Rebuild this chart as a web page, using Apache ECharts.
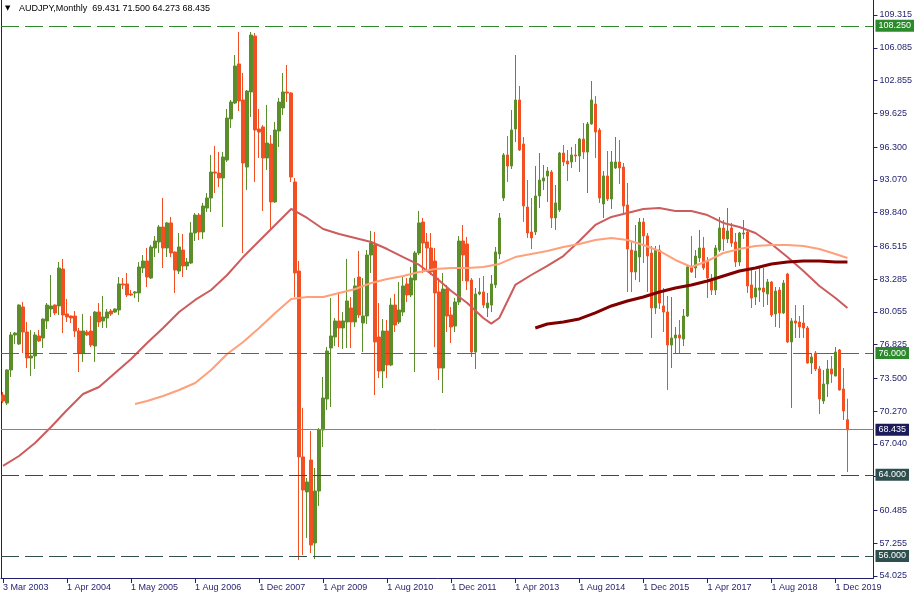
<!DOCTYPE html>
<html><head><meta charset="utf-8">
<script src="https://cdn.jsdelivr.net/npm/echarts@6/dist/echarts.min.js"></script>
<style>html,body{margin:0;padding:0;background:#fff}#c{width:915px;height:600px}</style>
</head><body><div id="c"></div>
<script>
// ---- data ----
const tickLabels = ["3 Mar 2003","1 Apr 2004","1 May 2005","1 Aug 2006","1 Dec 2007","1 Apr 2009","1 Aug 2010","1 Dec 2011","1 Apr 2013","1 Aug 2014","1 Dec 2015","1 Apr 2017","1 Aug 2018","1 Dec 2019"];
const yTicks = [109.315,106.085,102.855,99.625,96.300,93.070,89.840,86.515,83.285,80.055,76.825,73.500,70.270,67.040,63.810,60.485,57.255,54.025];

const open = [
71.86,71.07,74.33,77.78,76.89,80.54,78.07,75.51,75.71,77.68,
77.48,79.16,80.34,80.73,80.64,84.28,79.85,79.65,79.65,78.17,
76.00,78.07,78.17,76.69,80.04,79.16,79.45,80.14,80.04,80.24,
82.81,82.81,81.82,81.92,81.92,84.38,85.07,83.39,86.35,86.94,
88.42,86.35,88.82,85.96,84.08,86.15,84.58,84.87,87.83,89.60,
87.93,90.29,91.28,93.84,93.74,93.25,95.02,99.07,100.64,104.49,
100.94,94.33,101.73,107.24,98.08,98.28,95.22,96.60,90.89,97.88,
100.15,101.73,101.63,92.86,84.08,65.76,62.31,65.46,57.28,62.40,
68.42,71.47,76.50,77.58,79.16,78.47,79.06,80.44,79.06,83.49,
78.96,79.65,85.66,86.65,77.58,74.23,78.17,74.82,80.73,79.06,
80.04,82.81,81.72,83.20,85.86,88.91,86.94,86.35,85.07,82.02,
74.52,82.31,79.75,78.66,81.03,87.04,86.75,83.20,76.10,81.82,
82.02,80.44,80.73,82.71,85.76,91.28,95.52,94.43,98.08,100.94,
96.60,90.39,87.93,87.93,91.48,92.95,93.45,93.84,89.31,90.10,
95.71,94.92,94.83,95.52,95.42,97.09,95.81,98.57,100.54,97.98,
90.69,93.45,91.18,94.24,94.83,94.33,90.59,86.15,83.99,85.46,
88.91,87.54,85.86,80.44,86.15,80.64,80.04,76.79,77.48,77.78,
77.38,79.65,84.48,84.38,85.37,86.35,85.07,83.10,82.21,86.15,
88.32,87.24,88.32,86.94,84.97,87.73,87.93,82.71,81.52,82.21,
82.41,81.82,83.00,79.85,82.21,79.95,83.79,77.09,79.16,79.06,
78.96,78.47,75.02,76.00,74.43,71.27,72.95,74.43,73.74,76.30,
72.46,69.431];
const close = [
71.27,74.33,77.78,77.97,80.73,78.07,75.51,75.71,77.78,77.19,
79.35,80.73,80.64,79.95,84.38,79.75,79.55,79.45,78.17,76.00,
78.17,77.78,76.79,80.04,79.06,79.55,80.04,79.85,80.34,82.81,
82.71,81.72,81.72,82.02,84.48,85.07,83.49,86.45,87.04,88.42,
86.35,88.82,85.86,84.18,86.45,84.58,84.97,87.83,89.60,87.93,
90.49,91.28,93.84,93.74,93.25,95.32,99.16,100.74,104.29,100.84,
94.73,101.82,107.34,97.98,97.78,95.22,96.70,90.89,97.98,100.74,
101.73,101.63,93.35,83.89,65.76,62.50,63.29,57.08,62.40,68.42,
71.57,76.20,77.68,79.16,78.47,79.16,81.13,79.06,82.61,79.75,
79.65,85.66,86.84,77.09,74.23,78.17,74.82,80.73,78.76,80.24,
82.61,81.72,83.39,85.86,88.82,86.84,86.35,83.99,81.92,74.52,
82.31,79.65,78.57,81.03,87.04,85.66,83.10,76.10,81.82,82.02,
80.73,80.93,82.81,85.96,89.31,95.52,94.43,97.98,100.94,96.01,
90.49,87.83,87.34,91.48,93.05,93.25,93.94,89.31,90.79,95.71,
94.83,94.63,95.52,95.42,97.09,95.81,98.57,100.94,97.78,91.28,
93.45,91.18,94.83,94.83,94.24,90.49,86.25,83.99,86.06,88.91,
87.54,85.56,80.44,86.15,80.93,80.04,76.79,77.48,77.78,77.48,
79.65,84.48,83.99,85.56,86.35,84.38,83.39,82.21,86.35,88.32,
87.24,88.03,86.84,84.97,87.83,87.83,82.61,81.42,82.41,82.41,
82.02,83.00,79.75,82.11,79.95,82.90,77.09,79.16,78.96,78.57,
78.47,75.02,75.61,74.43,71.47,72.95,74.43,73.93,76.10,72.36,
70.29,68.435];
const high = [
72.16,74.40,78.07,78.07,80.80,81.03,79.06,78.27,78.07,78.27,
79.40,80.93,83.69,80.80,84.97,85.27,81.33,79.70,80.14,78.47,
79.85,78.27,79.65,80.14,80.93,81.62,80.34,80.34,80.40,83.49,
83.39,83.89,82.21,82.11,84.97,85.66,86.35,86.65,87.54,88.62,
91.28,88.91,89.41,86.00,87.83,87.73,85.37,88.91,89.80,89.80,
90.79,91.77,95.52,96.40,95.81,95.81,100.05,100.94,105.37,107.64,
103.60,101.92,107.64,107.54,100.05,98.47,100.45,97.49,98.77,101.14,
103.60,104.39,101.70,93.25,85.07,70.59,63.68,68.32,64.67,68.61,
73.64,76.59,81.42,79.45,82.02,80.04,85.27,81.52,83.39,86.06,
83.39,86.15,88.03,87.93,80.93,79.35,79.26,81.42,81.82,83.00,
83.49,83.39,84.48,86.06,90.00,89.31,87.83,87.83,86.35,83.39,
83.89,82.71,80.54,81.42,87.54,88.62,87.44,83.39,82.41,83.39,
83.59,81.92,83.69,86.45,89.80,95.71,97.39,99.95,105.37,102.32,
97.29,93.05,91.28,94.43,95.71,94.53,94.33,94.04,92.56,95.81,
96.50,96.01,96.30,96.60,97.19,98.67,98.77,102.81,101.33,98.18,
93.94,95.91,95.91,97.29,96.99,94.73,92.76,86.94,88.62,89.31,
89.31,87.83,86.55,86.55,86.65,82.41,81.62,81.52,78.57,79.26,
80.34,84.60,87.54,86.15,88.13,87.44,85.46,83.79,86.65,89.41,
89.11,90.29,88.82,87.83,87.93,89.11,88.13,84.38,84.08,84.48,
84.38,83.30,83.10,82.51,82.51,83.20,83.90,79.45,80.73,79.65,
80.73,78.66,76.00,76.20,74.72,74.33,75.31,75.71,76.59,76.40,
74.52,71.500];
const low = [
71.07,70.88,73.64,76.89,76.80,76.00,74.52,73.74,74.43,77.10,
76.50,78.37,79.55,79.75,79.75,77.97,79.06,78.96,77.58,74.13,
75.12,77.68,76.59,75.12,78.57,78.47,78.47,79.65,79.95,79.75,
82.31,81.52,81.62,81.42,81.03,83.89,82.51,83.30,85.46,85.86,
84.38,85.46,85.46,81.92,83.79,83.49,84.18,84.77,87.04,87.14,
87.24,89.90,89.90,91.77,92.36,88.42,94.83,98.18,100.54,99.85,
85.86,92.07,99.26,92.86,95.22,90.00,94.04,88.13,90.79,96.30,
99.46,100.74,92.86,81.52,55.60,56.10,57.77,56.29,55.70,60.92,
66.74,70.39,70.68,76.69,76.59,76.40,76.50,76.50,78.57,79.45,
76.10,78.86,83.89,71.86,73.54,72.55,73.54,74.70,78.07,78.86,
79.65,81.03,81.52,74.13,85.66,83.89,83.99,83.69,76.59,73.34,
72.06,78.07,76.99,78.07,80.73,83.10,82.21,75.61,74.43,81.70,
80.44,79.55,80.04,82.41,85.27,90.98,92.86,94.14,96.79,95.91,
88.92,87.34,86.25,87.63,90.29,92.07,90.89,88.32,88.13,89.90,
94.43,92.95,94.24,94.83,93.84,95.12,91.77,98.50,95.22,90.79,
89.31,90.98,90.20,94.14,92.66,89.60,82.02,82.02,83.20,82.99,
84.87,82.02,77.48,79.85,80.34,78.07,72.36,74.52,76.00,76.00,
76.69,79.55,83.90,83.39,84.97,84.18,81.42,81.72,81.72,85.96,
86.06,86.84,86.45,84.48,84.58,87.24,81.92,80.44,80.73,81.03,
80.54,80.73,79.55,78.57,78.47,79.85,77.00,70.59,77.48,77.48,
77.48,74.95,73.93,74.23,69.99,70.98,71.67,73.05,73.70,72.30,
69.40,64.273];

// moving averages: [bar index, value]
const ma50 = [[0,64.87],[4,65.85],[8,67.13],[12,68.71],[16,70.39],[20,71.96],[24,72.65],[28,74.03],[32,75.41],[36,76.99],[40,78.47],[44,80.04],[48,81.23],[52,82.21],[56,83.69],[60,85.46],[64,87.04],[68,88.62],[72,90.20],[76,89.31],[80,88.22],[84,87.73],[88,87.34],[92,86.94],[96,86.25],[100,85.46],[104,84.68],[108,83.49],[112,82.11],[116,80.93],[120,79.45],[122,78.90],[124,79.45],[128,82.71],[132,83.69],[136,84.58],[140,85.56],[144,87.04],[148,88.62],[152,89.41],[156,89.80],[160,90.20],[164,90.29],[168,90.00],[172,90.00],[176,89.60],[180,88.82],[184,88.42],[188,87.83],[192,86.75],[196,85.46],[200,84.08],[204,82.61],[208,81.42],[211,80.44]];
const ma100 = [[33,70.98],[36,71.27],[40,71.77],[44,72.36],[48,73.05],[52,74.33],[56,75.91],[60,77.09],[64,78.47],[68,79.95],[72,81.33],[76,81.52],[80,81.52],[84,81.92],[88,82.31],[92,82.90],[96,83.30],[100,83.59],[104,83.99],[108,84.28],[112,84.38],[116,84.38],[120,84.48],[124,84.78],[128,85.46],[132,85.76],[136,86.06],[140,86.45],[144,86.75],[148,87.14],[152,87.34],[156,87.14],[160,86.65],[164,86.06],[168,85.17],[172,84.48],[176,85.07],[180,85.86],[184,86.25],[188,86.55],[192,86.65],[196,86.65],[200,86.55],[204,86.25],[208,85.76],[211,85.37]];
const ma200 = [[133,78.47],[136,78.86],[140,79.06],[144,79.36],[148,79.95],[152,80.64],[156,81.13],[160,81.52],[164,82.02],[168,82.41],[172,82.71],[176,83.10],[180,83.59],[184,84.08],[188,84.38],[192,84.78],[196,84.97],[200,85.07],[204,85.07],[208,84.97],[211,84.97]];

const greenLevels = [108.25, 76.0];
const grayLevels = [64.0, 56.0];
const lastPrice = 68.435;
const titleText = "AUDJPY,Monthly  69.431 71.500 64.273 68.435";

// ---- chart ----
const slots = 218; // bars plus empty right shift
const categories = Array.from({length: slots}, (_, i) => String(i));
const candles = open.map((o, i) => [o, close[i], low[i], high[i]]);
const FONT = 'Liberation Sans';
const AXIS = '#1f1f6e';
const UP = '#5b8e2b', DOWN = '#f25022';

function levelLine(v, color, bg) {
  return {
    yAxis: v,
    lineStyle: {color: color, type: [18, 6], width: 1},
    label: {show: true, position: 'end', distance: 2, formatter: v.toFixed(3),
      color: '#fff', backgroundColor: bg, fontFamily: FONT, fontSize: 9,
      padding: [2, 3, 1, 3]}
  };
}

const chart = echarts.init(document.getElementById('c'), null, {renderer: 'canvas'});
chart.setOption({
  animation: false,
  backgroundColor: '#ffffff',
  textStyle: {fontFamily: FONT},
  grid: {left: 1, right: 41, top: 0, bottom: 22, containLabel: false},
  graphic: [
    {type: 'text', left: 5, top: 5, style: {text: '\u25BC', fontSize: 7, fill: '#000', fontFamily: 'DejaVu Sans'}},
    {type: 'text', left: 19, top: 4, style: {text: titleText, fontSize: 9, fill: '#000', fontFamily: FONT}}
  ],
  xAxis: {
    type: 'category', data: categories, boundaryGap: true,
    axisLine: {show: true, lineStyle: {color: AXIS, width: 1}},
    axisTick: {show: true, interval: 15, alignWithLabel: true, length: 5, lineStyle: {color: AXIS}},
    axisLabel: {interval: 15, align: 'left', margin: 5, color: AXIS, fontSize: 9, fontFamily: FONT,
      formatter: (v, i) => tickLabels[i / 16] || ''},
    splitLine: {show: false}
  },
  yAxis: [
    {type: 'value', position: 'right', min: 53.828, max: 110.793, scale: true,
      axisLine: {show: true, lineStyle: {color: AXIS, width: 1}},
      axisTick: {show: true, length: 4, lineStyle: {color: AXIS}, customValues: yTicks},
      axisLabel: {color: AXIS, fontSize: 9, fontFamily: FONT, margin: 6, customValues: yTicks,
        formatter: v => v.toFixed(3)},
      splitLine: {show: false}},
    {type: 'value', position: 'left', min: 53.828, max: 110.793,
      axisLine: {show: true, lineStyle: {color: AXIS, width: 1}},
      axisTick: {show: false}, axisLabel: {show: false}, splitLine: {show: false}}
  ],
  series: [
    {type: 'candlestick', name: 'AUDJPY', data: candles, barWidth: 3, z: 2,
      itemStyle: {color: UP, color0: DOWN, borderColor: UP, borderColor0: DOWN, borderWidth: 1},
      markLine: {silent: true, symbol: ['none', 'none'], animation: false,
        data: [
          levelLine(greenLevels[0], '#2c8a2c', '#2c8a2c'),
          levelLine(greenLevels[1], '#2c8a2c', '#2c8a2c'),
          levelLine(grayLevels[0], '#2f4f4f', '#2f4f4f'),
          levelLine(grayLevels[1], '#2f4f4f', '#2f4f4f'),
          {yAxis: lastPrice, lineStyle: {color: '#778899', type: 'solid', width: 1},
            label: {show: true, position: 'end', distance: 2, formatter: lastPrice.toFixed(3),
              color: '#fff', backgroundColor: '#1b1b5c', fontFamily: FONT, fontSize: 9, padding: [2, 3, 1, 3]}}
        ]}},
    {type: 'line', name: 'MA50', data: ma50, showSymbol: false, symbol: 'none', z: 3,
      lineStyle: {color: '#cd5c5c', width: 2}},
    {type: 'line', name: 'MA100', data: ma100, showSymbol: false, symbol: 'none', z: 3,
      lineStyle: {color: '#ffa07a', width: 2}},
    {type: 'line', name: 'MA200', data: ma200, showSymbol: false, symbol: 'none', z: 3,
      lineStyle: {color: '#800000', width: 3}}
  ]
});
</script>
</body></html>
